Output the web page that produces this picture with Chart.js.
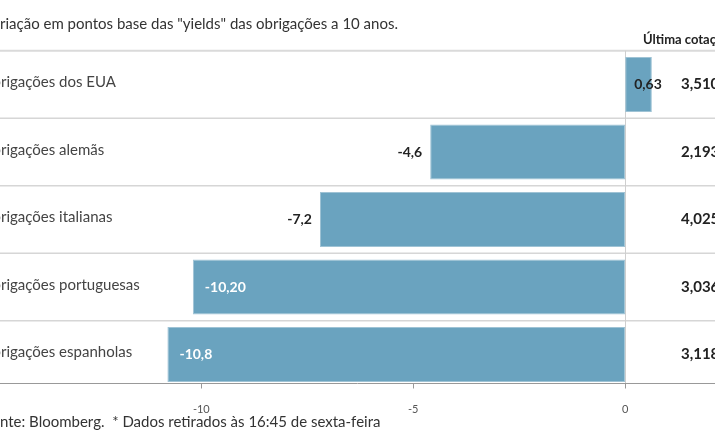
<!DOCTYPE html>
<html>
<head>
<meta charset="utf-8">
<script src="https://cdn.jsdelivr.net/npm/chart.js@4"></script>
<style>
  html, body { margin: 0; padding: 0; background: #fff; }
  #wrap { width: 715px; height: 445px; }
</style>
</head>
<body>
<div id="wrap"><canvas id="grafico" width="715" height="445"></canvas></div>
<script>
// dados
const categorias = ['Obrigações dos EUA', 'Obrigações alemãs', 'Obrigações italianas', 'Obrigações portuguesas', 'Obrigações espanholas'];
const variacao = [0.63, -4.6, -7.2, -10.2, -10.8];
const rotulosVariacao = ['0,63', '-4,6', '-7,2', '-10,20', '-10,8'];
const ultimaCotacao = ['3,510', '2,193', '4,025', '3,036', '3,118'];
const ticksX = [-10, -5, 0];

const titulo = 'Variação em pontos base das "yields" das obrigações a 10 anos.';
const cabecalho = 'Última cotação*';
const fonte = 'Fonte: Bloomberg.  * Dados retirados às 16:45 de sexta-feira';

const FAMILIA = 'Lato, "Noto Sans", sans-serif';
const AZUL = '#6aa3bf';

const decoracao = {
  id: 'decoracao',
  beforeDatasetsDraw(chart) {
    const { ctx, chartArea, scales } = chart;
    const y = scales.y, x = scales.x;
    const w = chart.width;
    ctx.save();
    // linha do topo
    ctx.strokeStyle = '#dadada';
    ctx.lineWidth = 2;
    ctx.beginPath();
    ctx.moveTo(0, chartArea.top);
    ctx.lineTo(w, chartArea.top);
    ctx.stroke();
    // separadores entre linhas
    ctx.lineWidth = 1.5;
    ctx.strokeStyle = '#d6d6d6';
    for (let i = 0; i < categorias.length - 1; i++) {
      const yy = (y.getPixelForValue(i) + y.getPixelForValue(i + 1)) / 2;
      ctx.beginPath();
      ctx.moveTo(0, yy);
      ctx.lineTo(w, yy);
      ctx.stroke();
    }
    // linha do zero
    const meta = chart.getDatasetMeta(0);
    const ultima = meta.data[meta.data.length - 1];
    const eixoY = ultima.y + ultima.height / 2 + 1;
    ctx.strokeStyle = '#cfcfcf';
    ctx.lineWidth = 1;
    ctx.beginPath();
    ctx.moveTo(Math.round(x.getPixelForValue(0)) + 0.5, chartArea.top);
    ctx.lineTo(Math.round(x.getPixelForValue(0)) + 0.5, eixoY);
    ctx.stroke();
    ctx.restore();
  },
  afterDatasetsDraw(chart) {
    const { ctx, scales } = chart;
    const y = scales.y, x = scales.x;
    const w = chart.width;
    const meta = chart.getDatasetMeta(0);
    const ultima = meta.data[meta.data.length - 1];
    const eixoY = Math.round(ultima.y + ultima.height / 2) + 1.5;
    ctx.save();

    // eixo horizontal e marcas
    ctx.strokeStyle = '#999';
    ctx.lineWidth = 1;
    ctx.beginPath();
    ctx.moveTo(0, eixoY);
    ctx.lineTo(w, eixoY);
    ctx.stroke();
    ticksX.forEach(v => {
      const px = Math.round(x.getPixelForValue(v)) + 0.5;
      ctx.beginPath();
      ctx.moveTo(px, eixoY);
      ctx.lineTo(px, eixoY + 5);
      ctx.stroke();
    });

    // rótulos das barras
    ctx.font = 'bold 14px ' + FAMILIA;
    ctx.textBaseline = 'middle';
    meta.data.forEach((barra, i) => {
      const v = variacao[i];
      const base = x.getPixelForValue(0);
      if (v >= 0) {
        ctx.fillStyle = '#222';
        ctx.textAlign = 'left';
        ctx.fillText(rotulosVariacao[i], base + 9, barra.y);
      } else if (v < -9) {
        ctx.fillStyle = '#fff';
        ctx.textAlign = 'left';
        ctx.fillText(rotulosVariacao[i], barra.x + 12, barra.y);
      } else {
        ctx.fillStyle = '#222';
        ctx.textAlign = 'right';
        ctx.fillText(rotulosVariacao[i], barra.x - 8, barra.y);
      }
    });

    // última cotação
    ctx.textAlign = 'left';
    ctx.fillStyle = '#222';
    ctx.font = 'bold 15px ' + FAMILIA;
    ultimaCotacao.forEach((c, i) => {
      ctx.fillText(c, 681, y.getPixelForValue(i));
    });
    ctx.font = 'bold 13px ' + FAMILIA;
    ctx.fillText(cabecalho, 643, 40);

    // nomes das categorias (cortados à esquerda como no original)
    ctx.font = '15px ' + FAMILIA;
    ctx.fillStyle = '#444';
    const desloc = ctx.measureText('Ob').width;
    categorias.forEach((c, i) => {
      ctx.fillText(c, 1 - desloc, y.getPixelForValue(i) - 2);
    });

    // título e fonte
    ctx.fillStyle = '#333';
    ctx.fillText(titulo, -ctx.measureText('Va').width, 24);
    ctx.fillText(fonte, -ctx.measureText('Fo').width, 422);
    ctx.restore();
  }
};

new Chart(document.getElementById('grafico'), {
  type: 'bar',
  data: {
    labels: categorias,
    datasets: [{
      data: variacao,
      backgroundColor: AZUL,
      borderColor: '#9fc3d5',
      borderWidth: 1,
      borderSkipped: false,
      categoryPercentage: 1,
      barPercentage: 0.815
    }]
  },
  options: {
    indexAxis: 'y',
    responsive: false,
    animation: false,
    layout: { padding: { top: 50.75, bottom: 26.75, left: 0, right: 0 } },
    plugins: { legend: { display: false }, tooltip: { enabled: false } },
    scales: {
      x: {
        type: 'linear',
        min: -14.75,
        max: 2.12,
        grid: { display: false },
        border: { display: false },
        afterBuildTicks: s => { s.ticks = ticksX.map(v => ({ value: v })); },
        afterFit: s => { s.height = 30; },
        ticks: {
          padding: 7,
          color: '#555',
          font: { family: FAMILIA, size: 11 },
          callback: v => String(v)
        }
      },
      y: {
        type: 'category',
        display: false,
        offset: true
      }
    }
  },
  plugins: [decoracao]
});
</script>
</body>
</html>
